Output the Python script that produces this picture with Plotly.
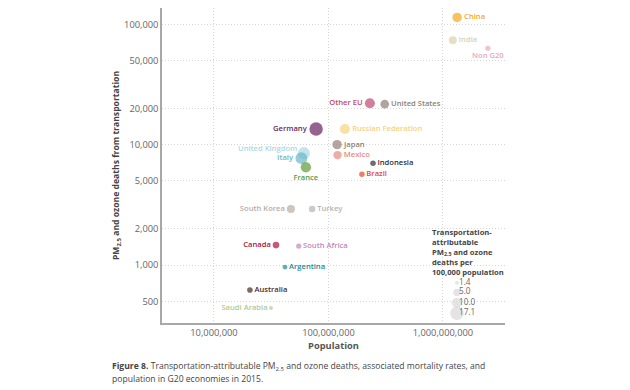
import math
import plotly.graph_objects as go

countries = ["China", "India", "Non G20", "Other EU", "United States", "Germany",
             "Russian Federation", "Japan", "Mexico", "United Kingdom", "Italy", "France",
             "Indonesia", "Brazil", "South Korea", "Turkey", "Canada", "South Africa",
             "Argentina", "Australia", "Saudi Arabia"]
population = [1.33e9, 1.22e9, 2.47e9, 2.3e8, 3.1e8, 7.8e7,
              1.39e8, 1.19e8, 1.2e8, 6.1e7, 5.8e7, 6.35e7,
              2.45e8, 1.96e8, 4.7e7, 7.2e7, 3.48e7, 5.5e7,
              4.17e7, 2.06e7, 3.15e7]
deaths = [114000, 73600, 63200, 22100, 21700, 13500,
          13500, 10000, 8190, 8500, 7730, 6500,
          7020, 5690, 2920, 2920, 1466, 1440,
          962, 621, 440]
rate = [8.6, 6.0, 2.6, 9.6, 7.0, 17.1,
        9.7, 8.4, 6.8, 13.9, 13.3, 10.2,
        2.9, 2.9, 6.2, 4.1, 4.2, 2.6,
        2.3, 3.0, 1.4]
colors = ["#F4A81D", "#D9D2AC", "#E9A6BD", "#C2486F", "#8E7E76", "#6A1F5F",
          "#F8D37E", "#928079", "#E78B7E", "#ABD9E2", "#6BB6C7", "#5C9B3A",
          "#2B2F38", "#E2492B", "#B9ABA5", "#B3B3B3", "#B1103C", "#C387BB",
          "#1C8A9B", "#4A2A22", "#AECB93"]
# "custom" = placed with an annotation beside the point
text_pos = ["middle right", "middle right", "bottom center", "middle left", "middle right",
            "middle left", "middle right", "middle right", "middle right", "custom",
            "middle left", "bottom center", "middle right", "middle right", "middle left",
            "middle right", "middle left", "middle right", "middle right", "middle right",
            "middle left"]

legend_rates = [1.4, 5.0, 10.0, 17.1]
legend_labels = ["1.4", "5.0", "10.0", "17.1"]
legend_y = [0.128, 0.097, 0.064, 0.031]

y_ticks = [500, 1000, 2000, 5000, 10000, 20000, 50000, 100000]
y_ticktext = ["500", "1,000", "2,000", "5,000", "10,000", "20,000", "50,000", "100,000"]
x_ticks = [1e7, 1e8, 1e9]
x_ticktext = ["10,000,000", "100,000,000", "1,000,000,000"]

FONT = "Open Sans"
SIZEREF = 17.1 / 90.0
LABEL_SIZE = 7.6

point_text = [c if p != "custom" else "" for c, p in zip(countries, text_pos)]
point_pos = [p if p != "custom" else "middle left" for p in text_pos]

fig = go.Figure()
fig.add_trace(go.Scatter(
    x=population, y=deaths, mode="markers+text", text=point_text,
    textposition=point_pos,
    textfont=dict(family=FONT, size=LABEL_SIZE, color=colors, weight=600),
    marker=dict(size=rate, sizemode="area", sizeref=SIZEREF, color=colors,
                line=dict(width=0)),
    cliponaxis=False, showlegend=False, hoverinfo="text"))

# size legend
fig.add_trace(go.Scatter(
    x=[0.86] * 4, y=legend_y, mode="markers", xaxis="x2", yaxis="y2",
    marker=dict(size=legend_rates, sizemode="area", sizeref=SIZEREF, color="#D9D9D9",
                line=dict(width=0)),
    cliponaxis=False, showlegend=False, hoverinfo="skip"))
fig.add_trace(go.Scatter(
    x=[0.866] * 4, y=legend_y, mode="text", xaxis="x2", yaxis="y2",
    text=legend_labels, textposition="middle right",
    textfont=dict(family=FONT, size=8.2, color="#666666"),
    cliponaxis=False, showlegend=False, hoverinfo="skip"))

PLOT_H = 315.0
PLOT_W = 343.0
annotations = []

# custom-placed point labels
for c, p, pop, d, col in zip(countries, text_pos, population, deaths, colors):
    if p == "custom":
        annotations.append(dict(
            text=c, x=math.log10(pop), y=math.log10(d), xref="x", yref="y",
            xanchor="right", yanchor="middle", xshift=-5, yshift=5, showarrow=False,
            font=dict(family=FONT, size=LABEL_SIZE, color=col, weight=600)))

legend_title = ("<b>Transportation-<br>attributable<br>PM<sub>2.5</sub> and ozone<br>"
                "deaths per<br>100,000 population</b>")
annotations.append(dict(
    text=legend_title, xref="paper", yref="paper",
    x=(430 - 162) / PLOT_W, y=(323 - 225) / PLOT_H,
    xanchor="left", yanchor="top", align="left",
    showarrow=False, font=dict(family=FONT, size=7.6, color="#444444")))

caption = ["<b>Figure 8.</b> Transportation-attributable PM<sub>2.5</sub> and ozone deaths, associated mortality rates, and",
           "population in G20 economies in 2015."]
for i, line in enumerate(caption):
    annotations.append(dict(
        text=line, xref="paper", yref="paper",
        x=(110 - 162) / PLOT_W, y=(323 - (366 + i * 12.5)) / PLOT_H,
        xanchor="left", yanchor="middle", showarrow=False,
        font=dict(family=FONT, size=8.6, color="#444444")))

GRID_DASH = "1px,2px"
fig.update_layout(
    width=622, height=382,
    margin=dict(l=154, r=125, t=0, b=67),
    paper_bgcolor="white", plot_bgcolor="white",
    font=dict(family=FONT, size=9, color="#666666"),
    annotations=annotations,
    xaxis=dict(type="log", range=[6.546, 9.542], tickvals=x_ticks, ticktext=x_ticktext,
               showgrid=True, gridcolor="#D6D6D6", griddash=GRID_DASH, gridwidth=1,
               showline=True, linecolor="#A8A8A8", linewidth=1.5, zeroline=False,
               ticks="", tickfont=dict(family=FONT, size=9.3, color="#666666"),
               title=dict(text="<b>Population</b>", standoff=3,
                          font=dict(family=FONT, size=9.3, color="#555555"))),
    yaxis=dict(type="log", range=[2.519, 5.135], tickvals=y_ticks, ticktext=y_ticktext,
               showgrid=True, gridcolor="#D6D6D6", griddash=GRID_DASH, gridwidth=1,
               showline=True, linecolor="#A8A8A8", linewidth=1.5, zeroline=False,
               ticks="", tickfont=dict(family=FONT, size=9.3, color="#666666"),
               title=dict(text="<b>PM<sub>2.5</sub> and ozone deaths from transportation</b>",
                          standoff=3, font=dict(family=FONT, size=8.6, color="#444444"))),
    xaxis2=dict(overlaying="x", range=[0, 1], visible=False, fixedrange=True),
    yaxis2=dict(overlaying="y", range=[0, 1], visible=False, fixedrange=True),
)

fig.write_html("out.html")
